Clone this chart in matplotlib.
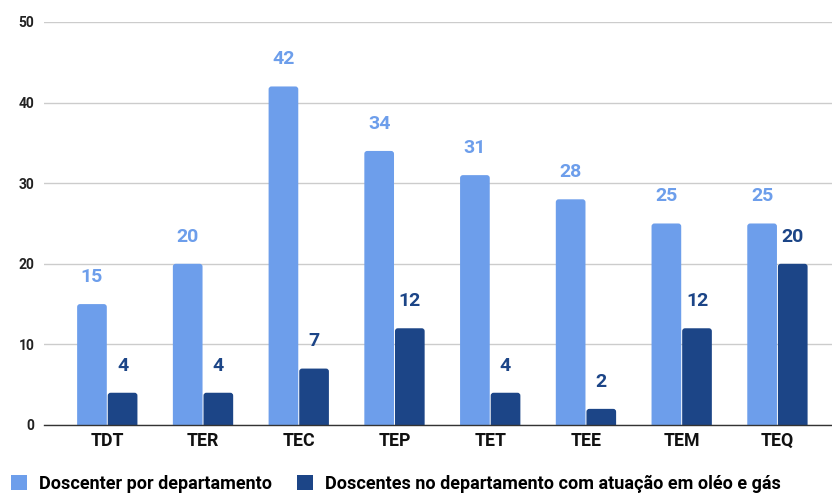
import matplotlib
matplotlib.use("Agg")
import matplotlib.pyplot as plt
import numpy as np
from matplotlib.patches import Patch, FancyBboxPatch

plt.rcParams['font.family'] = ['Roboto', 'DejaVu Sans']

categories = ["TDT", "TER", "TEC", "TEP", "TET", "TEE", "TEM", "TEQ"]
docentes_total = [15, 20, 42, 34, 31, 28, 25, 25]
docentes_oleo_gas = [4, 4, 7, 12, 4, 2, 12, 20]
series_names = ["Doscenter por departamento",
                "Doscentes no departamento com atuação em oléo e gás"]

light = "#6d9eeb"
dark = "#1c4587"

fig = plt.figure(figsize=(8.32, 4.94), dpi=100)
ax = fig.add_axes([0.053, 0.1397, 0.947, 0.8158])
ax.set_ylim(0, 50)
ax.set_xlim(-0.66, 7.57)

x = np.arange(len(categories))
w = 0.31
b1 = ax.bar(x - w / 2 - 0.005, docentes_total, width=w, color=light, zorder=3)
b2 = ax.bar(x + w / 2 + 0.005, docentes_oleo_gas, width=w, color=dark, zorder=3)

# replace plain rectangles by slightly rounded ones (bottom edge hidden below 0)
r_x = 0.03
aspect = (50 / 403) / (1 / 95.5)
for bars, col in ((b1, light), (b2, dark)):
    for rect in bars:
        rect.set_visible(False)
        x0, wd, h = rect.get_x(), rect.get_width(), rect.get_height()
        ax.add_patch(FancyBboxPatch((x0, -1), wd, h + 1,
                                    boxstyle=f"round,pad=0,rounding_size={r_x}",
                                    mutation_aspect=aspect,
                                    facecolor=col, edgecolor="none", zorder=3))

for bars, vals, col in ((b1, docentes_total, light), (b2, docentes_oleo_gas, dark)):
    for rect, v in zip(bars, vals):
        ax.annotate(f"{v}", (rect.get_x() + rect.get_width() / 2, v),
                    xytext=(0, 19.5), textcoords="offset points",
                    ha="center", va="center", fontsize=14, fontweight="bold",
                    color=col)

ax.set_yticks([0, 10, 20, 30, 40, 50])
ax.set_yticklabels(["0", "10", "20", "30", "40", "50"], fontsize=10,
                   fontweight="bold", color="#222222")
ax.set_xticks(x)
ax.set_xticklabels(categories, fontsize=12.8, fontweight="bold", color="#111111")
ax.tick_params(axis="both", length=0)
ax.tick_params(axis="y", pad=7)
ax.tick_params(axis="x", pad=5)
ax.grid(axis="y", color="#cccccc", linewidth=1, zorder=0)
for s in ("top", "right", "left"):
    ax.spines[s].set_visible(False)
ax.spines["bottom"].set_color("#333333")
ax.spines["bottom"].set_linewidth(1)
ax.spines["bottom"].set_zorder(4)

handles = [Patch(facecolor=light), Patch(facecolor=dark)]
leg = fig.legend(handles, series_names, loc="center left",
                 bbox_to_anchor=(11 / 832, 10 / 494), ncol=2, frameon=False,
                 prop={"family": "Roboto", "size": 13, "weight": "bold"},
                 handlelength=0.88, handleheight=0.88, handletextpad=0.65,
                 columnspacing=1.4, borderpad=0, borderaxespad=0)

fig.savefig("out.png", dpi=100)
